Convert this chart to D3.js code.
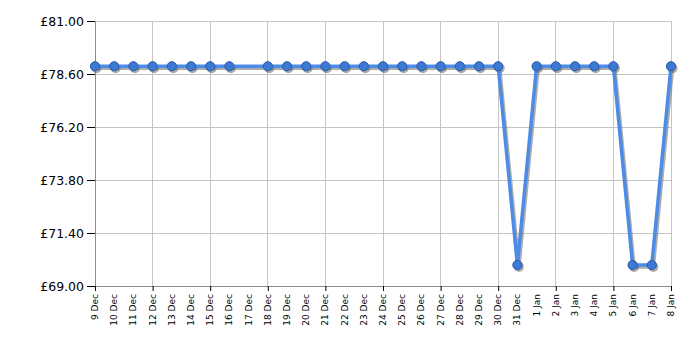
<!DOCTYPE html>
<html>
<head>
<meta charset="utf-8">
<script src="https://cdn.jsdelivr.net/npm/d3@7"></script>
<style>
  body { margin: 0; background: #fff; }
  svg text { font-family: "DejaVu Sans", Verdana, sans-serif; }
</style>
</head>
<body>
<div id="chart"></div>
<script>
// price history, one entry per day (17 Dec has no reading)
const dates = ["2023-12-09","2023-12-10","2023-12-11","2023-12-12","2023-12-13","2023-12-14","2023-12-15","2023-12-16",
  "2023-12-18","2023-12-19","2023-12-20","2023-12-21","2023-12-22","2023-12-23","2023-12-24","2023-12-25","2023-12-26",
  "2023-12-27","2023-12-28","2023-12-29","2023-12-30","2023-12-31","2024-01-01","2024-01-02","2024-01-03","2024-01-04",
  "2024-01-05","2024-01-06","2024-01-07","2024-01-08"];
const prices = [78.95,78.95,78.95,78.95,78.95,78.95,78.95,78.95,
  78.95,78.95,78.95,78.95,78.95,78.95,78.95,78.95,78.95,
  78.95,78.95,78.95,78.95,69.95,78.95,78.95,78.95,78.95,
  78.95,69.95,69.95,78.95];
const yTicks = [69.00, 71.40, 73.80, 76.20, 78.60, 81.00];

const parse = d3.timeParse("%Y-%m-%d");
const data = dates.map((d, i) => ({ date: parse(d), price: prices[i] }));

const outer_w = 700, outer_h = 350;
const margin = { top: 21, right: 29, bottom: 64, left: 95 };
const w = outer_w - margin.left - margin.right;
const h = outer_h - margin.top - margin.bottom;

const svg = d3.select("#chart").append("svg")
  .attr("width", outer_w).attr("height", outer_h)
  .append("g")
  .attr("transform", `translate(${margin.left},${margin.top})`);

const x = d3.scaleTime()
  .domain([parse("2023-12-09"), parse("2024-01-08")])
  .range([0, w]);
const y = d3.scaleLinear().domain([69, 81]).range([h, 0]);

const allDays = d3.timeDay.range(parse("2023-12-09"), d3.timeDay.offset(parse("2024-01-08"), 1));
const gridDays = allDays.filter((d, i) => i % 3 === 0);

// gridlines
svg.append("g").selectAll("line").data(yTicks).enter().append("line")
  .attr("x1", 0).attr("x2", w)
  .attr("y1", d => y(d)).attr("y2", d => y(d))
  .attr("stroke", "#c4c4c4").attr("stroke-width", 1).attr("shape-rendering", "crispEdges");
svg.append("g").selectAll("line").data(gridDays).enter().append("line")
  .attr("x1", d => x(d)).attr("x2", d => x(d))
  .attr("y1", 0).attr("y2", h)
  .attr("stroke", "#c4c4c4").attr("stroke-width", 1).attr("shape-rendering", "crispEdges");

// axes
const yAxis = svg.append("g")
  .call(d3.axisLeft(y).tickValues(yTicks).tickSize(8).tickSizeOuter(0).tickFormat(d => "£" + d3.format(".2f")(d)));
yAxis.select(".domain").attr("stroke", "#8c8c8c");
yAxis.selectAll(".tick line").attr("stroke", "#000");
yAxis.selectAll(".tick text").attr("font-size", "12.5px").attr("fill", "#000").attr("x", -11);

const xAxis = svg.append("g")
  .attr("transform", `translate(0,${h})`)
  .call(d3.axisBottom(x).tickValues(gridDays).tickSize(5).tickSizeOuter(0).tickFormat(""));
xAxis.select(".domain").attr("stroke", "#8c8c8c");
xAxis.selectAll(".tick line").attr("stroke", "#000");

svg.append("g").selectAll("text").data(allDays).enter().append("text")
  .attr("transform", d => `translate(${x(d) + 3},${h + 8}) rotate(-90)`)
  .attr("text-anchor", "end")
  .attr("font-size", "9px")
  .attr("fill", "#000")
  .text(d3.timeFormat("%-d %b"));

const line = d3.line().x(d => x(d.date)).y(d => y(d.price));

// shadow
svg.append("path").datum(data)
  .attr("d", line)
  .attr("transform", "translate(1.5,2)")
  .attr("fill", "none").attr("stroke", "#777").attr("stroke-opacity", 0.6).attr("stroke-width", 3.5);
svg.append("g").selectAll("circle").data(data).enter().append("circle")
  .attr("cx", d => x(d.date) + 1.5).attr("cy", d => y(d.price) + 2)
  .attr("r", 5).attr("fill", "#555").attr("fill-opacity", 0.5);

svg.append("path").datum(data)
  .attr("d", line)
  .attr("fill", "none").attr("stroke", "#4d8ce6").attr("stroke-width", 3.5)
  .attr("stroke-linejoin", "round");

svg.append("g").selectAll("circle").data(data).enter().append("circle")
  .attr("cx", d => x(d.date)).attr("cy", d => y(d.price))
  .attr("r", 4.6).attr("fill", "#3b79d4").attr("stroke", "#2a5aa8").attr("stroke-width", 1);
</script>
</body>
</html>
